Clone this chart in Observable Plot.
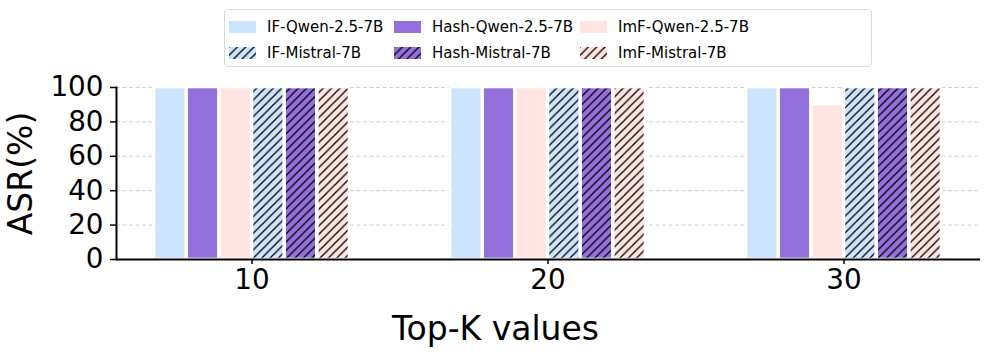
<!DOCTYPE html>
<html><head><meta charset="utf-8">
<script src="https://cdn.jsdelivr.net/npm/d3@7"></script>
<script src="https://cdn.jsdelivr.net/npm/@observablehq/plot@0.6"></script>
<style>
body{margin:0;background:#fff;font-family:"DejaVu Sans",sans-serif;}
#wrap{width:990px;}
#legend{position:relative;height:70px;}
#legend .box{position:absolute;left:224px;top:9px;width:648px;height:58px;border:1px solid #d9d9d9;border-radius:4px;box-sizing:border-box;}
.item{position:absolute;display:flex;align-items:center;font-size:15px;color:#000;height:16px;}
.sw{width:27px;height:12px;margin-right:11px;}
#chart g[aria-label="y-axis tick label"], #chart g[aria-label="y-axis tick label"] text,
#chart g[aria-label="x-axis tick label"], #chart g[aria-label="x-axis tick label"] text {font-size:27.8px;}
#chart g[aria-label="y-axis label"], #chart g[aria-label="y-axis label"] text {font-size:33px;}
</style></head>
<body>
<svg width="0" height="0" style="position:absolute"><defs id="defs"></defs></svg>
<div id="wrap"><div id="legend"><div class="box"></div></div><div id="chart"></div></div>
<script>
// ---- data ----
const groups = ["10", "20", "30"];
const methods = ["IF", "Hash", "ImF"];
const models = ["Qwen-2.5-7B", "Mistral-7B"];
const ifQwen = [100, 100, 100];
const hashQwen = [100, 100, 100];
const imfQwen = [100, 100, 90];
const ifMistral = [100, 100, 100];
const hashMistral = [100, 100, 100];
const imfMistral = [100, 100, 100];
const yTicks = [0, 20, 40, 60, 80, 100];
const methodColors = ["#cce4fe", "#9370db", "#ffe4e1"];
const xLabel = "Top-K values";
const yLabel = "ASR(%)";

const seriesValues = {
  "IF-Qwen-2.5-7B": ifQwen, "Hash-Qwen-2.5-7B": hashQwen, "ImF-Qwen-2.5-7B": imfQwen,
  "IF-Mistral-7B": ifMistral, "Hash-Mistral-7B": hashMistral, "ImF-Mistral-7B": imfMistral
};

// hatch patterns ("//")
const defs = d3.select("#defs");
const s = 8.33;
methods.forEach((me, i) => {
  const p = defs.append("pattern").attr("id", `hatch-${i}`).attr("patternUnits", "userSpaceOnUse")
    .attr("width", s).attr("height", s);
  p.append("rect").attr("width", s).attr("height", s).attr("fill", methodColors[i]);
  p.append("path").attr("d", `M0,${s} L${s},0 M${-s/2},${s/2} L${s/2},${-s/2} M${s/2},${s*1.5} L${s*1.5},${s/2}`)
    .attr("stroke", "#000").attr("stroke-width", 1.3);
});
const fillFor = (method, model) => {
  const i = methods.indexOf(method);
  return models.indexOf(model) === 0 ? methodColors[i] : `url(#hatch-${i})`;
};

// legend (matplotlib ncol=3, column-major)
const box = d3.select("#legend .box");
const colX = [4, 169, 355];
const rowY = [9, 35];
methods.forEach((me, ci) => models.forEach((mo, ri) => {
  const it = box.append("div").attr("class", "item").style("left", colX[ci] + "px").style("top", rowY[ri] + "px");
  it.append("svg").attr("class", "sw").attr("width", 27).attr("height", 12)
    .append("rect").attr("width", 27).attr("height", 12).attr("fill", fillFor(me, mo));
  it.append("span").text(`${me}-${mo}`);
}));

// layout of grouped bars within each x band
const W = 990, mL = 116, mR = 10;
const padIn = 0.34, padOut = 0.125;
const step = (W - mL - mR) / (groups.length - padIn + 2 * padOut);
const bandW = step * (1 - padIn);
const nSeries = methods.length * models.length;
const barStep = bandW / nSeries;

const barMarks = [];
models.forEach((model, mi) => methods.forEach((method, ti) => {
  const k = mi * methods.length + ti;
  const name = `${method}-${model}`;
  const rows = seriesValues[name].map((v, gi) => ({group: groups[gi], series: name, value: v}));
  barMarks.push(Plot.barY(rows, {
    x: "group", y: "value",
    fill: fillFor(method, model), stroke: "#fff", strokeWidth: 2.6,
    insetLeft: k * barStep, insetRight: (nSeries - 1 - k) * barStep
  }));
}));

const chart = Plot.plot({
  width: W, height: 286,
  marginTop: 17, marginBottom: 97, marginLeft: mL, marginRight: mR,
  style: {fontFamily: "DejaVu Sans", fontSize: "25px", color: "#000", background: "#fff"},
  x: {domain: groups, paddingInner: padIn, paddingOuter: padOut},
  y: {domain: [0, 100]},
  marks: [
    Plot.gridY(yTicks.slice(1), {stroke: "#cccccc", strokeOpacity: 1, strokeDasharray: "4,2.5", strokeWidth: 0.9}),
    ...barMarks,
    Plot.ruleY([0], {stroke: "#000", strokeWidth: 2}),
    Plot.frame({anchor: "left", stroke: "#000", strokeWidth: 2}),
    Plot.axisY({ticks: yTicks, tickSize: 6, tickPadding: 7, strokeWidth: 1.5,
      label: yLabel, labelAnchor: "center", labelOffset: 108, labelArrow: "none"}),
    Plot.axisX({anchor: "bottom", tickSize: 5, tickPadding: 5, strokeWidth: 1.5, label: null}),
    Plot.text([xLabel], {frameAnchor: "bottom", lineAnchor: "bottom", dx: -53, dy: 80, fontSize: 33, fill: "#000"})
  ]
});
document.getElementById("chart").appendChild(chart);
</script>
</body></html>
